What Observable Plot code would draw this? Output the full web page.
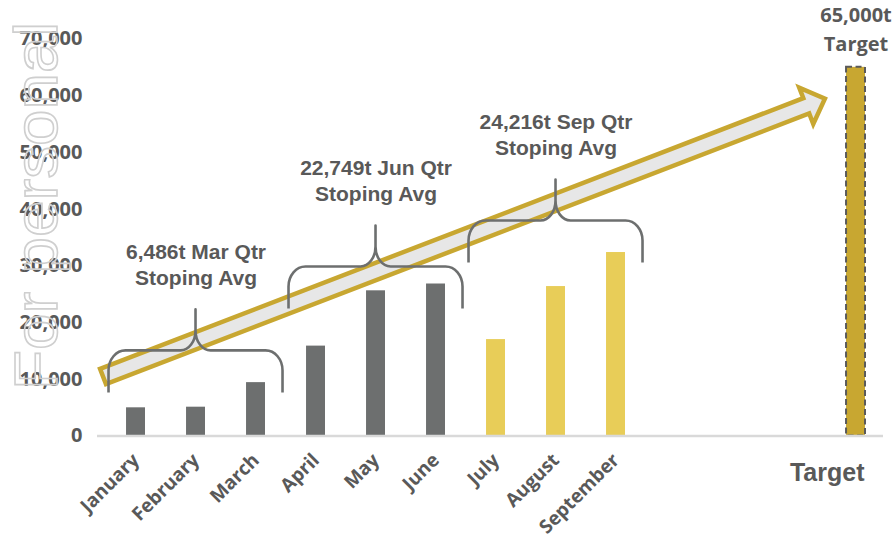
<!DOCTYPE html>
<html><head><meta charset="utf-8">
<script src="https://cdn.jsdelivr.net/npm/d3@7"></script>
<script src="https://cdn.jsdelivr.net/npm/@observablehq/plot@0.6"></script>
<style>
html,body{margin:0;padding:0;background:#fff;}
#chart{width:893px;height:544px;overflow:hidden;}
#chart svg g[aria-label^="y-axis"] text{font-family:"Open Sans",sans-serif;font-weight:700;font-size:20px;fill:#595959;}
#chart svg g[aria-label^="x-axis"] text{font-family:"Open Sans",sans-serif;font-weight:700;font-size:19px;fill:#595959;}
</style></head><body><div id="chart"></div>
<script>
// ---- data ----
const categories = ["January","February","March","April","May","June","July","August","September"," ","  ","   ","Target"];
const months = ["January","February","March","April","May","June","July","August","September"];
const tonnes = [4970, 5080, 9410, 15850, 25600, 26800, 17000, 26350, 32350];
const monthQuarter = ["Mar","Mar","Mar","Jun","Jun","Jun","Sep","Sep","Sep"];
const targetName = "Target";
const targetTonnes = 65000;
const quarterNames = ["Mar","Jun","Sep"];
const quarterAvg = [6486, 22749, 24216];
const braceBase = [7600, 22400, 30500];      // tonnes level where each brace's ends sit
const arrowFrom = {i: -0.542, t: 10400};      // annotation arrow anchors (category index, tonnes)
const arrowTo = {i: 11.49, t: 59400};
const yTicks = [0, 10000, 20000, 30000, 40000, 50000, 60000, 70000];
const watermark = "For personal";

// ---- styles ----
const GRAY = "#6d6f6f", YELLOW = "#e8cd58", GOLD = "#c8a731", TEXT = "#595959";
const HALF = 0.158;

const idx = name => categories.indexOf(name);
const bars = months.map((m, k) => ({cat: m, i: idx(m), t: tonnes[k], q: monthQuarter[k]}));
const target = [{cat: targetName, i: idx(targetName), t: targetTonnes}];
const quarters = quarterNames.map((q, k) => {
  const ms = bars.filter(d => d.q === q);
  return {q, first: ms[0].i, last: ms[ms.length - 1].i, mid: (ms[0].i + ms[ms.length - 1].i) / 2,
    base: braceBase[k],
    label: `${d3.format(",")(quarterAvg[k])}t ${q} Qtr\nStoping Avg`};
});
const fx = s => (typeof s === "function" ? s : s.apply);

const arrowMark = (index, scales) => {
  const x = fx(scales.x), y = fx(scales.y);
  const x0 = x(arrowFrom.i), y0 = y(arrowFrom.t), x1 = x(arrowTo.i), y1 = y(arrowTo.t);
  const L = Math.hypot(x1 - x0, y1 - y0), ux = (x1 - x0) / L, uy = (y1 - y0) / L, nx = -uy, ny = ux;
  const w = 8.2, hw = 19.5, hl = 20;
  const P = (u, v) => [x0 + ux * u + nx * v, y0 + uy * u + ny * v].map(n => n.toFixed(2)).join(",");
  const pts = [P(0, -w), P(L - hl, -w), P(L - hl, -hw), P(L, 0), P(L - hl, hw), P(L - hl, w), P(0, w)];
  return d3.create("svg:path").attr("d", "M" + pts.join("L") + "Z")
    .attr("fill", "#e7e7e7").attr("stroke", GOLD).attr("stroke-width", 4.5)
    .attr("stroke-linejoin", "miter").node();
};

const braceMark = (index, scales) => {
  const x = fx(scales.x), y = fx(scales.y);
  const g = d3.create("svg:g");
  for (const q of quarters) {
    const xl = x(q.first - 0.45), xr = x(q.last + 0.45), xc = x(q.mid);
    const yE = y(q.base), yM = yE - 42, yP = yE - 83;
    const d = `M${xl},${yE} L${xl},${yM + 20} C${xl},${yM + 9} ${xl + 7.6},${yM} ${xl + 17},${yM}`
      + ` L${xc - 15},${yM} C${xc - 6.7},${yM} ${xc},${yM - 9} ${xc},${yM - 20} L${xc},${yP}`
      + ` L${xc},${yM - 20} C${xc},${yM - 9} ${xc + 6.7},${yM} ${xc + 15},${yM}`
      + ` L${xr - 17},${yM} C${xr - 7.6},${yM} ${xr},${yM + 9} ${xr},${yM + 20} L${xr},${yE}`;
    g.append("path").attr("d", d).attr("fill", "none").attr("stroke", GRAY)
      .attr("stroke-width", 2.6).attr("stroke-linejoin", "round");
  }
  return g.node();
};

const watermarkMark = () => d3.create("svg:text")
  .attr("transform", "translate(57,390) rotate(-90)")
  .attr("text-anchor", "start")
  .attr("font-family", "Liberation Sans, Arial, sans-serif").attr("font-size", 62)
  .attr("textLength", 368).attr("lengthAdjust", "spacingAndGlyphs")
  .attr("fill", "none").attr("stroke", "#cfcfcf").attr("stroke-width", 1.6)
  .text(watermark).node();

const plot = Plot.plot({
  width: 893, height: 544,
  marginLeft: 97, marginRight: 10, marginTop: 38.5, marginBottom: 108.5,
  style: {fontFamily: "Open Sans, sans-serif", background: "white"},
  x: {type: "linear", domain: [-0.642, 12.458], ticks: months.map(idx),
      tickFormat: i => categories[i] ?? "", tickRotate: -45, tickSize: 0, tickPadding: 21, label: null},
  y: {domain: [0, 70000], ticks: yTicks, tickFormat: d3.format(","), tickSize: 0, tickPadding: 15, label: null},
  marks: [
    Plot.rect(bars.filter(d => d.q !== "Sep"), {x1: d => d.i - HALF, x2: d => d.i + HALF, y1: 0, y2: "t", fill: GRAY}),
    Plot.rect(bars.filter(d => d.q === "Sep"), {x1: d => d.i - HALF, x2: d => d.i + HALF, y1: 0, y2: "t", fill: YELLOW}),
    Plot.rect(target, {x1: d => d.i - HALF, x2: d => d.i + HALF, y1: 0, y2: "t", fill: GOLD,
      stroke: "#5a5a5a", strokeWidth: 2, strokeDasharray: "6,3.5"}),
    Plot.ruleY([0], {stroke: "#d9d9d9", strokeWidth: 2.5}),
    arrowMark,
    braceMark,
    Plot.text(quarters, {x: "mid", y: "base", text: "label", dy: -108, lineAnchor: "bottom", lineHeight: 1.22,
      fontFamily: "Liberation Sans, Arial, sans-serif", fontWeight: "bold", fontSize: 21, fill: TEXT}),
    Plot.text(target, {x: "i", y: "t", text: d => `${d3.format(",")(d.t)}t\n${d.cat}`, dy: -16.5,
      lineAnchor: "bottom", lineHeight: 1.45, fontFamily: "Open Sans, sans-serif", fontWeight: "bold", fontSize: 20, fill: TEXT}),
    Plot.text(target, {x: "i", y: 0, text: "cat", dy: 44.5, dx: 8.5, textAnchor: "end", lineAnchor: "bottom",
      fontFamily: "Liberation Sans, Arial, sans-serif", fontWeight: "bold", fontSize: 25, fill: TEXT}),
    watermarkMark
  ]
});
document.getElementById("chart").appendChild(plot);
</script>
</body></html>
